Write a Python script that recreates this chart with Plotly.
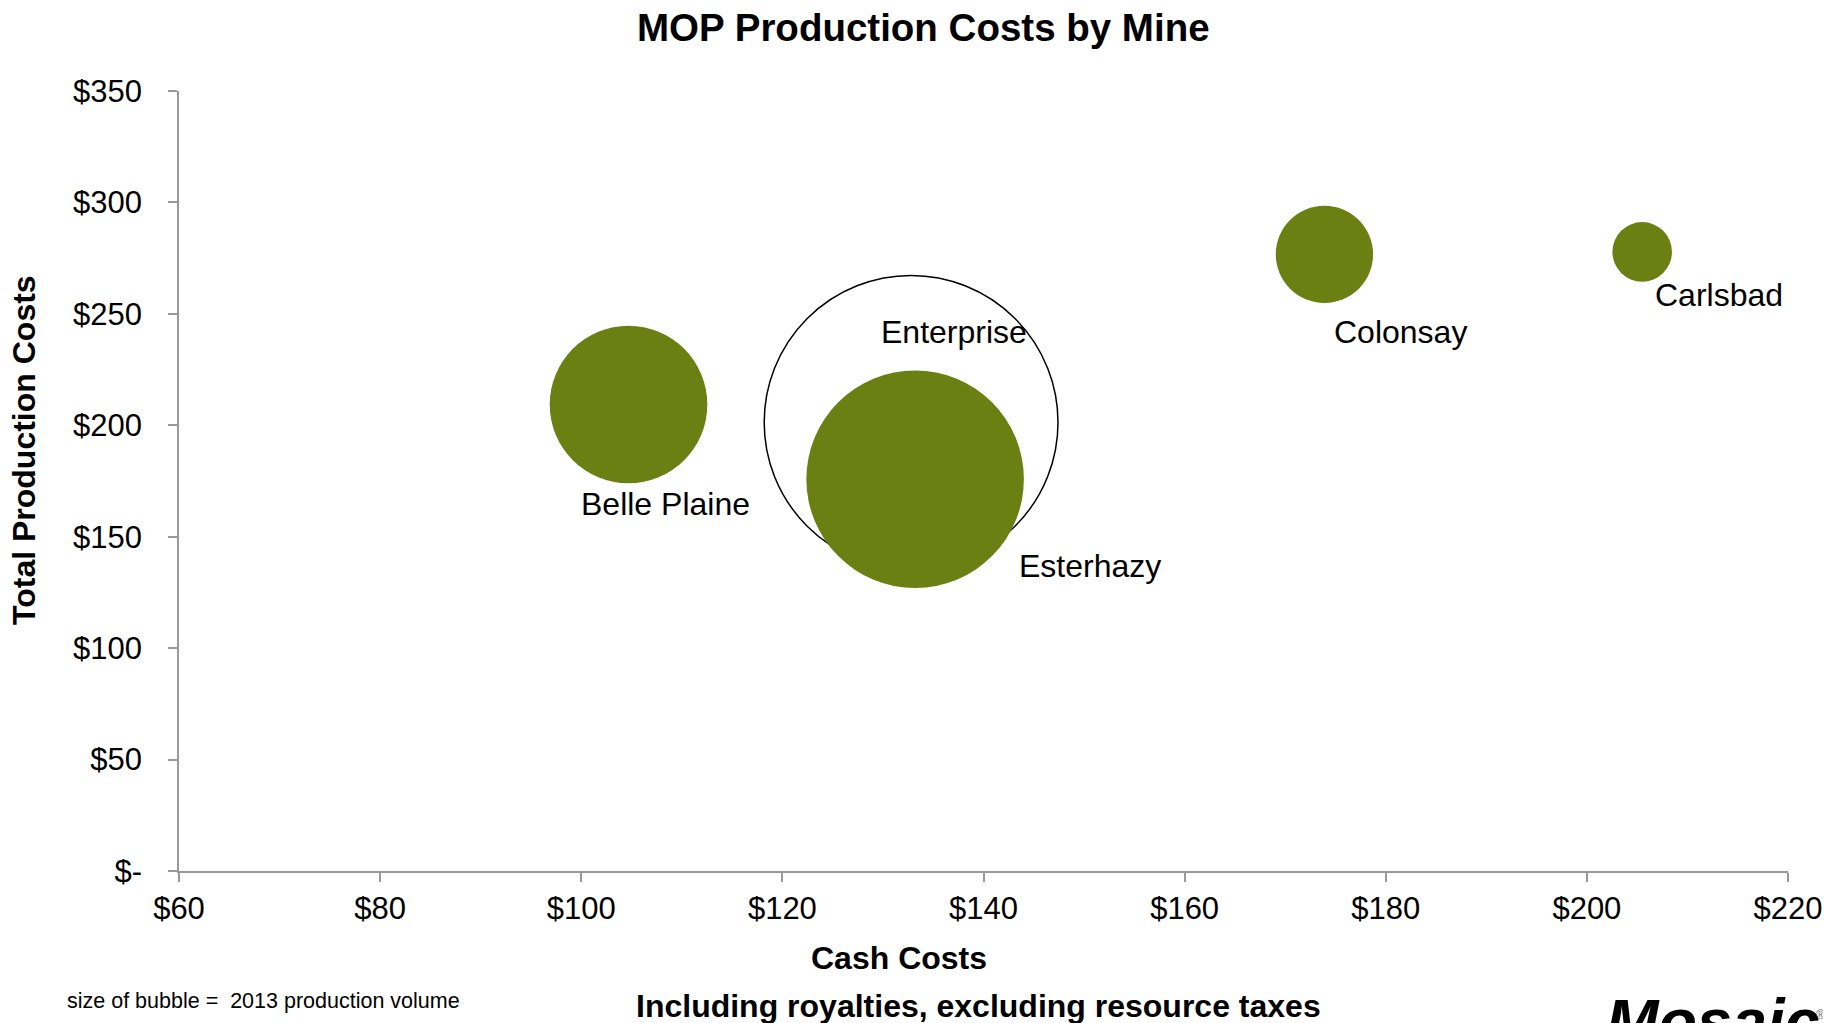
import plotly.graph_objects as go

# ---- data ----
mines = ["Enterprise", "Belle Plaine", "Esterhazy", "Colonsay", "Carlsbad"]
cash_costs = [132.8, 104.7, 133.2, 173.9, 205.5]
total_costs = [201.3, 209.3, 175.8, 276.7, 277.8]
production_volume = [7.3, 2.1, 4.0, 0.8, 0.3]  # 2013 production volume (Mt, estimated)
hollow = [True, False, False, False, False]

x_tickvals = [60, 80, 100, 120, 140, 160, 180, 200, 220]
x_ticktext = ["$60", "$80", "$100", "$120", "$140", "$160", "$180", "$200", "$220"]
y_tickvals = [0, 50, 100, 150, 200, 250, 300, 350]
y_ticktext = ["$-", "$50", "$100", "$150", "$200", "$250", "$300", "$350"]

# label offsets (pixels) relative to each bubble centre
label_dx = [43, 37, 175, 76, 77]
label_dy = [90, -99, -87, -78, -43]

GREEN = "#6B7F12"
FONT = "Liberation Sans, Arial, sans-serif"
SIZEREF = 2 * 4.0 / (217.5 ** 2)

fig = go.Figure()
for i, m in enumerate(mines):
    fig.add_trace(go.Scatter(
        x=[cash_costs[i]], y=[total_costs[i]], mode="markers",
        marker=dict(
            size=[production_volume[i]], sizemode="area", sizeref=SIZEREF,
            color="white" if hollow[i] else GREEN, opacity=1,
            line=dict(color="black" if hollow[i] else GREEN, width=1.5 if hollow[i] else 0),
        ),
        name=m, hoverinfo="skip", showlegend=False, cliponaxis=False,
    ))

annotations = []
for i, m in enumerate(mines):
    annotations.append(dict(
        x=cash_costs[i], y=total_costs[i], xref="x", yref="y", text=m,
        showarrow=False, xshift=label_dx[i], yshift=label_dy[i],
        font=dict(family=FONT, size=32, color="black"),
        xanchor="center", yanchor="middle",
    ))

annotations += [
    dict(text="<b>MOP Production Costs by Mine</b>", x=0.4628, y=1.0808, xref="paper", yref="paper",
         showarrow=False, xanchor="center", yanchor="middle", font=dict(family=FONT, size=38.5, color="black")),
    dict(text="<b>Cash Costs</b>", x=0.4472, y=-0.1109, xref="paper", yref="paper",
         showarrow=False, xanchor="center", yanchor="middle", font=dict(family=FONT, size=32, color="black")),
    dict(text="<b>Total Production Costs</b>", x=-0.0967, y=0.5403, xref="paper", yref="paper",
         showarrow=False, xanchor="center", yanchor="middle", textangle=-90,
         font=dict(family=FONT, size=32, color="black")),
    dict(text="size of bubble =  2013 production volume", x=0.0528, y=-0.1663, xref="paper", yref="paper",
         showarrow=False, xanchor="center", yanchor="middle", font=dict(family=FONT, size=21.5, color="black")),
    dict(text="<b>Including royalties, excluding resource taxes</b>", x=0.4970, y=-0.1731,
         xref="paper", yref="paper", showarrow=False, xanchor="center", yanchor="middle",
         font=dict(family=FONT, size=32, color="black")),
    dict(text="<b><i>Mosaic</i></b>", x=0.8855, y=-0.192, xref="paper", yref="paper",
         showarrow=False, xanchor="left", yanchor="middle",
         font=dict(family=FONT, size=63, color="black")),
    dict(text="®", x=1.0205, y=-0.1846, xref="paper", yref="paper",
         showarrow=False, xanchor="center", yanchor="middle",
         font=dict(family=FONT, size=12, color="#666666")),
]

axis_common = dict(
    showgrid=False, zeroline=False, showline=True, linecolor="#999999", linewidth=1.5,
    ticks="outside", ticklen=9, tickwidth=1.5, tickcolor="#999999",
    tickfont=dict(family=FONT, size=31, color="black"), ticklabeloverflow="allow",
)

# The page body adds an 8px offset, so the figure is 8px smaller than the window.
fig.update_layout(
    width=1823, height=1015,
    margin=dict(l=171, r=43, t=83, b=152, autoexpand=False),
    paper_bgcolor="white", plot_bgcolor="white",
    xaxis=dict(range=[60, 220], tickvals=x_tickvals, ticktext=x_ticktext,
               ticklabelstandoff=0, **axis_common),
    yaxis=dict(range=[0, 350], tickvals=y_tickvals, ticktext=y_ticktext,
               ticklabelstandoff=20, **axis_common),
    annotations=annotations,
    showlegend=False,
)

fig.write_html("out.html")
